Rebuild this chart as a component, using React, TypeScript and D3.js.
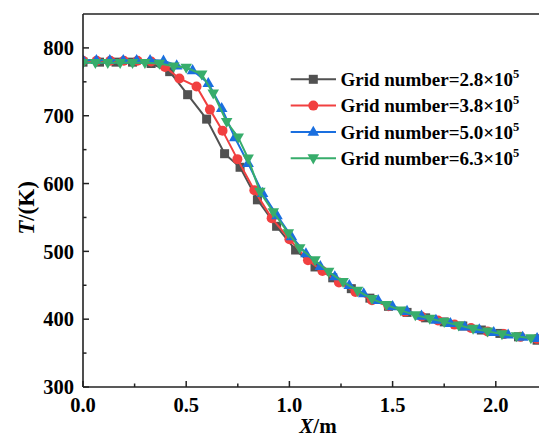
import React from "react";
import * as d3 from "d3";

const xTicks = [0, 0.5, 1.0, 1.5, 2.0];
const xMinor = [0.25, 0.75, 1.25, 1.75, 2.25];
const yTicks = [300, 400, 500, 600, 700, 800];
const yMinor = [350, 450, 550, 650, 750];

const seriesNames = ["Grid number=2.8×10", "Grid number=3.8×10", "Grid number=5.0×10", "Grid number=6.3×10"];
const seriesColors = ["#515151", "#F14040", "#1A6FDF", "#37AD6B"];
const seriesMarkers = ["square", "circle", "triangle", "triangleDown"];

const blackX = [0, 0.08, 0.16, 0.24, 0.33, 0.42, 0.507, 0.599, 0.686, 0.761, 0.845, 0.938, 1.03, 1.124, 1.21, 1.3, 1.39, 1.48, 1.57, 1.66, 1.75, 1.84, 1.93, 2.02, 2.11, 2.2];
const blackT = [779, 779, 779, 779, 777, 765, 731, 695, 644, 624, 576, 537, 502, 477, 461, 445, 431, 419, 410, 402, 396, 390, 384, 379, 374, 369];

const redX = [0, 0.066, 0.132, 0.198, 0.264, 0.33, 0.397, 0.467, 0.55, 0.615, 0.676, 0.748, 0.83, 0.914, 1.0, 1.09, 1.16, 1.24, 1.32, 1.4, 1.48, 1.56, 1.64, 1.72, 1.8, 1.88, 1.96, 2.04, 2.12, 2.2];
const redT = [781, 781, 781, 781, 781, 780, 772, 755, 743, 709, 678, 636, 590, 549, 518, 487, 471, 454, 440, 428, 419, 411, 404, 398, 392, 387, 382, 378, 374, 371];

const blueX = [0, 0.065, 0.13, 0.195, 0.26, 0.325, 0.39, 0.454, 0.531, 0.607, 0.672, 0.735, 0.8, 0.87, 0.94, 1.01, 1.08, 1.15, 1.22, 1.29, 1.36, 1.43, 1.5, 1.57, 1.64, 1.71, 1.78, 1.85, 1.92, 1.99, 2.06, 2.13, 2.2];
const blueT = [782, 782, 782, 782, 782, 782, 781, 774, 767, 748, 711, 668, 630, 586, 553, 522, 497, 478, 463, 450, 438, 428, 419, 412, 405, 399, 394, 389, 385, 381, 377, 374, 372];

const greenX = [0, 0.06, 0.12, 0.18, 0.24, 0.3, 0.37, 0.44, 0.5, 0.575, 0.631, 0.696, 0.752, 0.8, 0.857, 0.922, 0.995, 1.05, 1.124, 1.19, 1.26, 1.33, 1.4, 1.47, 1.54, 1.61, 1.68, 1.75, 1.82, 1.89, 1.96, 2.03, 2.1, 2.17];
const greenT = [778, 778, 778, 778, 778, 778, 777, 773, 771, 761, 733, 691, 668, 637, 588, 558, 527, 505, 487, 470, 455, 442, 430, 421, 413, 406, 401, 396, 391, 386, 382, 378, 375, 372];

const seriesX = [blackX, redX, blueX, greenX];
const seriesT = [blackT, redT, blueT, greenT];

const W = 539, H = 439;
const left = 83, top = 14, bottom = 387;
const x = d3.scaleLinear().domain([0, 2.25]).range([left, left + 2.25 * 206.4]);
const y = d3.scaleLinear().domain([300, 850]).range([bottom, top]);

const ts: React.CSSProperties = { fontFamily: '"Liberation Serif"', fontWeight: 700 };

function Marker({ kind, cx, cy, color }: { kind: string; cx: number; cy: number; color: string }) {
  if (kind === "square") return <rect x={cx - 4.5} y={cy - 4.5} width={9} height={9} fill={color} />;
  if (kind === "circle") return <circle cx={cx} cy={cy} r={5} fill={color} />;
  const sym = d3.symbol().type(d3.symbolTriangle).size(58)();
  return <path d={sym || ""} transform={`translate(${cx},${cy + (kind === "triangle" ? 0.5 : -0.5)}) rotate(${kind === "triangle" ? 0 : 180})`} fill={color} />;
}

export default function App() {
  const line = d3.line<[number, number]>().x((d) => x(d[0])).y((d) => y(d[1]));
  return (
    <svg width={W} height={H} style={{ position: "absolute", left: 0, top: 0, background: "#fff" }}>
      <defs>
        <clipPath id="clip">
          <rect x={left} y={top} width={W - left} height={bottom - top} />
        </clipPath>
      </defs>
      <g clipPath="url(#clip)">
        {seriesX.map((xs, i) => {
          const pts: [number, number][] = xs.map((v, j) => [v, seriesT[i][j]]);
          return (
            <g key={i}>
              <path d={line(pts) || ""} fill="none" stroke={seriesColors[i]} strokeWidth={2} />
              {pts.map((p, j) => (
                <Marker key={j} kind={seriesMarkers[i]} cx={x(p[0])} cy={y(p[1])} color={seriesColors[i]} />
              ))}
            </g>
          );
        })}
      </g>
      <line x1={left} x2={W} y1={top} y2={top} stroke="#222" strokeWidth={1.6} />
      <line x1={left} x2={left} y1={top} y2={bottom} stroke="#222" strokeWidth={1.6} />
      <line x1={left} x2={W} y1={bottom} y2={bottom} stroke="#222" strokeWidth={1.6} />
      {yTicks.map((t) => (
        <g key={t}>
          <line x1={left} x2={left + 6} y1={y(t)} y2={y(t)} stroke="#222" strokeWidth={1.5} />
          <text x={left - 9} y={y(t)} dy="0.35em" textAnchor="end" fontSize={20.5} style={ts}>{t}</text>
        </g>
      ))}
      {yMinor.map((t) => (
        <line key={t} x1={left} x2={left + 3.5} y1={y(t)} y2={y(t)} stroke="#222" strokeWidth={1.5} />
      ))}
      {xTicks.map((t) => (
        <g key={t}>
          <line x1={x(t)} x2={x(t)} y1={bottom} y2={bottom - 6} stroke="#222" strokeWidth={1.5} />
          <text x={x(t)} y={bottom + 25} textAnchor="middle" fontSize={20.5} style={ts}>{t.toFixed(1)}</text>
        </g>
      ))}
      {xMinor.map((t) => (
        <line key={t} x1={x(t)} x2={x(t)} y1={bottom} y2={bottom - 3.5} stroke="#222" strokeWidth={1.5} />
      ))}
      <text x={318} y={433} textAnchor="middle" fontSize={21} style={ts}>
        <tspan style={{ fontStyle: "italic" }}>X</tspan>/m
      </text>
      <text transform="translate(34,208) rotate(-90)" textAnchor="middle" fontSize={23} style={ts}>
        <tspan style={{ fontStyle: "italic" }}>T</tspan>/(K)
      </text>
      {seriesNames.map((n, i) => {
        const ly = 79.3 + i * 26.3;
        return (
          <g key={i}>
            <line x1={290.7} x2={336} y1={ly} y2={ly} stroke={seriesColors[i]} strokeWidth={2} />
            <Marker kind={seriesMarkers[i]} cx={313.3} cy={ly} color={seriesColors[i]} />
            <text x={340.5} y={ly} dy="0.35em" fontSize={19} style={ts}>
              {n}
              <tspan fontSize={12.5} dy={-8}>5</tspan>
            </text>
          </g>
        );
      })}
    </svg>
  );
}
